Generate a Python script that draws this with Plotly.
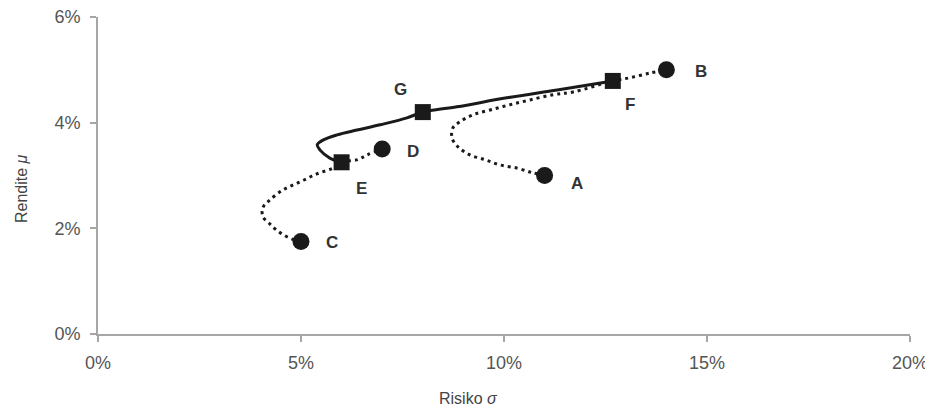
import plotly.graph_objects as go

# Curve points (risk %, return %)
curve_AB_x = [11.0, 10.71, 10.32, 9.90, 9.53, 9.16, 8.87, 8.72, 8.74, 8.92, 9.24, 9.66, 10.15, 10.64, 11.21, 11.70, 12.68, 13.10, 13.60, 14.0]
curve_AB_y = [3.0, 3.05, 3.14, 3.20, 3.30, 3.39, 3.54, 3.71, 3.90, 4.02, 4.15, 4.24, 4.34, 4.43, 4.53, 4.58, 4.79, 4.85, 4.94, 5.0]

curve_CD_x = [5.0, 4.80, 4.56, 4.36, 4.21, 4.06, 4.06, 4.21, 4.56, 4.98, 5.39, 5.79, 6.0, 6.40, 6.63, 7.0]
curve_CD_y = [1.75, 1.79, 1.88, 1.99, 2.10, 2.22, 2.39, 2.52, 2.73, 2.88, 3.03, 3.14, 3.25, 3.30, 3.39, 3.5]

curve_EF_x = [6.0, 5.71, 5.47, 5.40, 5.54, 5.89, 6.38, 6.95, 7.61, 8.0, 8.84, 10.07, 11.31, 12.68]
curve_EF_y = [3.25, 3.33, 3.48, 3.58, 3.67, 3.77, 3.86, 3.96, 4.09, 4.2, 4.30, 4.47, 4.62, 4.79]

asset_names = ["A", "B", "C", "D"]
asset_x = [11.0, 14.0, 5.0, 7.0]
asset_y = [3.0, 5.0, 1.75, 3.5]

port_names = ["E", "F", "G"]
port_x = [6.0, 12.68, 8.0]
port_y = [3.25, 4.79, 4.2]

x_ticks = [0, 5, 10, 15, 20]
x_tick_text = ["0%", "5%", "10%", "15%", "20%"]
y_ticks = [0, 2, 4, 6]
y_tick_text = ["0%", "2%", "4%", "6%"]

# label offsets in pixels (style)
label_shift = {"A": (32, -8), "B": (35, -2), "C": (31, -1), "D": (31, -2),
               "E": (20, -26), "F": (17, -24), "G": (-22, 23)}

ink = "#1a1a1a"
axis_col = "#a6a6a6"
font_fam = "Liberation Sans, Arial"

fig = go.Figure()
dot_line = dict(color=ink, width=3, dash="3px,4px")
fig.add_trace(go.Scatter(x=curve_AB_x, y=curve_AB_y, mode="lines",
                         line=dict(**dot_line, shape="spline"), hoverinfo="skip"))
fig.add_trace(go.Scatter(x=curve_CD_x, y=curve_CD_y, mode="lines",
                         line=dict(**dot_line, shape="spline"), hoverinfo="skip"))
fig.add_trace(go.Scatter(x=curve_EF_x, y=curve_EF_y, mode="lines",
                         line=dict(color=ink, width=3, shape="spline"), hoverinfo="skip"))
fig.add_trace(go.Scatter(x=asset_x, y=asset_y, mode="markers",
                         marker=dict(symbol="circle", size=17, color=ink)))
fig.add_trace(go.Scatter(x=port_x, y=port_y, mode="markers",
                         marker=dict(symbol="square", size=16, color=ink)))

for names, xs, ys in [(asset_names, asset_x, asset_y), (port_names, port_x, port_y)]:
    for n, xv, yv in zip(names, xs, ys):
        dx, dy = label_shift[n]
        fig.add_annotation(x=xv, y=yv, text="<b>%s</b>" % n, showarrow=False,
                           xshift=dx, yshift=dy,
                           font=dict(size=17, color="#333333", family=font_fam))

fig.add_annotation(xref="paper", yref="paper", x=0.456, y=-0.202,
                   xanchor="center", yanchor="middle",
                   text="Risiko <i>σ</i>", showarrow=False,
                   font=dict(size=16, color="#444444", family=font_fam))
fig.add_annotation(xref="paper", yref="paper", x=-0.095, y=0.46,
                   xanchor="center", yanchor="middle",
                   text="Rendite <i>μ</i>", showarrow=False, textangle=-90,
                   font=dict(size=16, color="#444444", family=font_fam))

axis_common = dict(showgrid=False, zeroline=False, showline=True,
                   linecolor=axis_col, linewidth=2, ticks="outside",
                   tickcolor=axis_col, tickwidth=2, ticklen=6,
                   automargin=False, ticklabeloverflow="allow",
                   tickfont=dict(size=18, color="#555555", family=font_fam))
fig.update_xaxes(range=[0, 20], tickmode="array", tickvals=x_ticks,
                 ticktext=x_tick_text, ticklabelstandoff=5, **axis_common)
fig.update_yaxes(range=[0, 6], tickmode="array", tickvals=y_ticks,
                 ticktext=y_tick_text, ticklabelstandoff=6, **axis_common)

fig.update_layout(width=925, height=404, showlegend=False, autosize=False,
                  plot_bgcolor="white", paper_bgcolor="white",
                  margin=dict(l=90, r=23, t=9, b=78))

fig.write_html("out.html")
